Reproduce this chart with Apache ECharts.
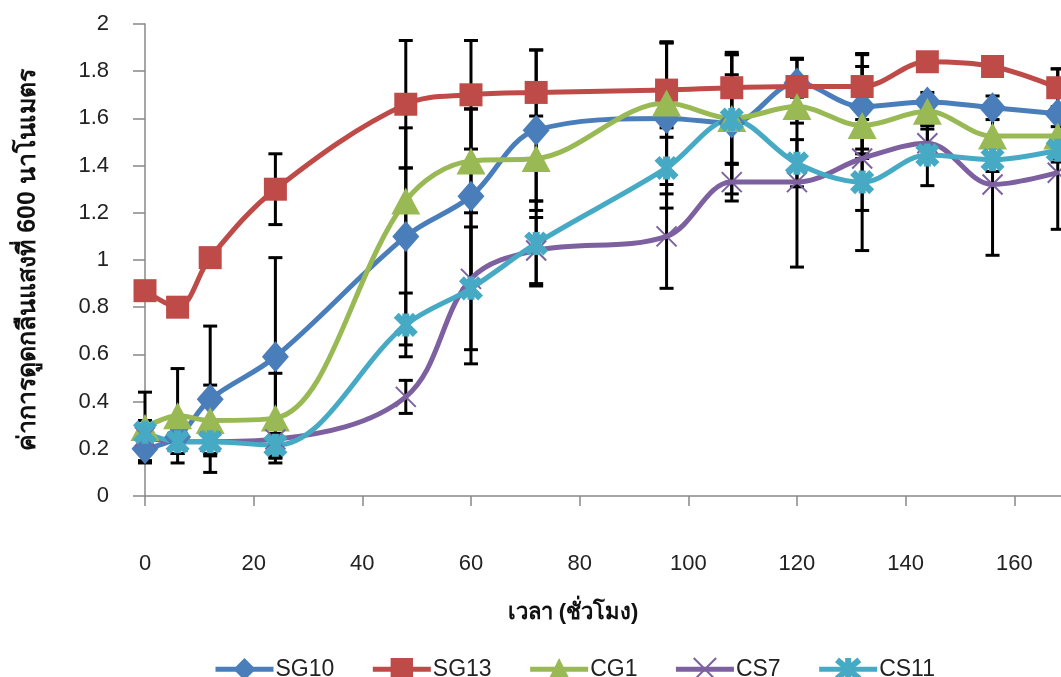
<!DOCTYPE html>
<html>
<head>
<meta charset="UTF-8">
<title>OD600</title>
<script type="text/javascript" src="https://cdn.jsdelivr.net/npm/echarts@6/dist/echarts.min.js"></script>
<style>
html, body { margin: 0; padding: 0; background: #fff; }
#chart { width: 1061px; height: 677px; }
</style>
</head>
<body>
<div id="chart"></div>
<script type="text/javascript">
// 시간(x축)
var hours = [0, 6, 12, 24, 48, 60, 72, 96, 108, 120, 132, 144, 156, 168];
var xTicks = [0, 20, 40, 60, 80, 100, 120, 140, 160];
var yTicks = [0, 0.2, 0.4, 0.6, 0.8, 1, 1.2, 1.4, 1.6, 1.8, 2];

// 각 계열 값
var sg10 = [0.20, 0.25, 0.41, 0.59, 1.10, 1.27, 1.55, 1.60, 1.58, 1.75, 1.65, 1.67, 1.645, 1.62];
var sg13 = [0.87, 0.80, 1.01, 1.30, 1.66, 1.70, 1.71, 1.72, 1.73, 1.735, 1.735, 1.84, 1.82, 1.73];
var cg1  = [0.29, 0.34, 0.32, 0.33, 1.25, 1.42, 1.43, 1.665, 1.60, 1.65, 1.57, 1.63, 1.525, 1.525];
var cs7  = [0.25, 0.23, 0.23, 0.24, 0.42, 0.92, 1.04, 1.10, 1.33, 1.33, 1.43, 1.495, 1.32, 1.37];
var cs11 = [0.27, 0.23, 0.23, 0.215, 0.725, 0.88, 1.07, 1.39, 1.595, 1.41, 1.33, 1.445, 1.425, 1.465];

// 오차막대
var sg10Err = [0.05, 0.05, 0.31, 0.42, 0.46, 0.37, 0.34, 0.32, 0.30, 0.10, 0.22, 0.04, 0.05, 0.19];
var sg13Err = [0, 0, 0, 0.15, 0.27, 0.23, 0.18, 0.20, 0.14, 0.12, 0.14, 0, 0, 0.08];
var cg1Err  = [0.15, 0.20, 0.15, 0.19, 0.14, 0.22, 0.18, 0.26, 0.27, 0.07, 0.10, 0.06, 0, 0.04];
var cs7Err  = [0.05, 0.05, 0.05, 0.08, 0.07, 0.36, 0.14, 0.22, 0.08, 0.36, 0.39, 0.06, 0.30, 0.24];
var cs11Err = [0.05, 0.05, 0.05, 0.05, 0.135, 0.26, 0.18, 0.17, 0.19, 0.10, 0.12, 0.13, 0.05, 0.05];

var names = ["SG10", "SG13", "CG1", "CS7", "CS11"];
var colors = ["#4A7EBB", "#BE4B48", "#98B954", "#7D60A0", "#46AAC5"];
var values = [sg10, sg13, cg1, cs7, cs11];
var errs = [sg10Err, sg13Err, cg1Err, cs7Err, cs11Err];

var FONT = "'Liberation Sans', 'Noto Sans', sans-serif";

function pairs(arr) {
	var out = [];
	for (var i = 0; i < hours.length; i++) out.push([hours[i], arr[i]]);
	return out;
}

function errData(arr, e) {
	var out = [];
	for (var i = 0; i < hours.length; i++) {
		if (e[i] > 0) out.push([hours[i], arr[i], e[i]]);
	}
	return out;
}

function renderErr(params, api) {
	var x = api.value(0), y = api.value(1), e = api.value(2);
	var top = api.coord([x, y + e]);
	var bot = api.coord([x, y - e]);
	var w = 7;
	var st = { stroke: "#000", lineWidth: 3 };
	return {
		type: "group",
		children: [
			{ type: "line", shape: { x1: top[0], y1: top[1], x2: bot[0], y2: bot[1] }, style: st },
			{ type: "line", shape: { x1: top[0] - w, y1: top[1], x2: top[0] + w, y2: top[1] }, style: st },
			{ type: "line", shape: { x1: bot[0] - w, y1: bot[1], x2: bot[0] + w, y2: bot[1] }, style: st }
		]
	};
}

var symbols = [
	{ symbol: "diamond", size: [27, 31] },
	{ symbol: "rect", size: 23 },
	{ symbol: "triangle", size: [29, 27] },
	{ symbol: "path://M0,0L10,10M10,0L0,10", size: 20 },
	{ symbol: "path://M0,0L10,10M10,0L0,10M5,-1L5,11", size: 23 }
];

var series = [];
// 오차막대 먼저
for (var i = 0; i < names.length; i++) {
	series.push({
		type: "custom",
		name: names[i] + "-err",
		data: errData(values[i], errs[i]),
		renderItem: renderErr,
		z: 3,
		silent: true
	});
}
for (var i = 0; i < names.length; i++) {
	var s = {
		name: names[i],
		type: "line",
		data: pairs(values[i]),
		smooth: 0.35,
		symbol: symbols[i].symbol,
		symbolSize: symbols[i].size,
		symbolKeepAspect: true,
		showAllSymbol: true,
		z: 4,
		lineStyle: { color: colors[i], width: 5 },
		itemStyle: { color: colors[i], borderColor: colors[i], borderWidth: 0, opacity: 1 }
	};
	if (i === 3) s.itemStyle.borderWidth = 2;
	if (i === 4) s.itemStyle.borderWidth = 7;
	series.push(s);
}

// 범례 항목
var legendData = [];
for (var i = 0; i < names.length; i++) {
	var item = { name: names[i] };
	if (i === 4) item.itemStyle = { borderColor: colors[i], borderWidth: 6 };
	if (i === 3) item.itemStyle = { borderColor: colors[i], borderWidth: 2 };
	legendData.push(item);
}

var chart = echarts.init(document.getElementById("chart"), null, { renderer: "canvas" });
chart.setOption({
	animation: false,
	backgroundColor: "#fff",
	textStyle: { fontFamily: FONT },
	grid: { left: 145, right: 0, top: 24, bottom: 181, containLabel: false },
	legend: {
		data: legendData,
		top: 655,
		left: 213,
		padding: 0,
		itemWidth: 58,
		itemHeight: 28,
		itemGap: 36,
		lineStyle: { width: 5 },
		textStyle: { fontSize: 23, color: "#222", fontFamily: FONT, padding: [0, 0, 0, -3] }
	},
	xAxis: {
		type: "value",
		min: 0,
		max: 168.6,
		interval: 20,
		name: "เวลา (ชั่วโมง)",
		nameLocation: "middle",
		nameGap: 106,
		nameTextStyle: { fontSize: 22, fontWeight: "bold", color: "#111", padding: [0, 60, 0, 0] },
		axisLine: { show: true, onZero: false, lineStyle: { color: "#888", width: 1.5 } },
		axisTick: { show: true, inside: false, length: 10, lineStyle: { color: "#888", width: 1.5 } },
		axisLabel: {
			margin: 57,
			fontSize: 22,
			color: "#222",
			showMaxLabel: false,
			formatter: function (v) { return xTicks.indexOf(v) >= 0 ? String(v) : ""; }
		},
		splitLine: { show: false }
	},
	yAxis: {
		type: "value",
		min: 0,
		max: 2,
		interval: 0.2,
		name: "ค่าการดูดกลืนแสงที่ 600 นาโนเมตร",
		nameLocation: "middle",
		nameGap: 104,
		nameRotate: 90,
		nameTextStyle: { fontSize: 25, fontWeight: "bold", color: "#111" },
		axisLine: { show: true, lineStyle: { color: "#888", width: 1.5 } },
		axisTick: { show: true, length: 12, lineStyle: { color: "#888", width: 1.5 } },
		axisLabel: {
			margin: 36,
			fontSize: 22,
			color: "#222",
			formatter: function (v) {
				for (var k = 0; k < yTicks.length; k++) {
					if (Math.abs(yTicks[k] - v) < 1e-6) return String(yTicks[k]);
				}
				return "";
			}
		},
		splitLine: { show: false }
	},
	series: series
});
</script>
</body>
</html>
